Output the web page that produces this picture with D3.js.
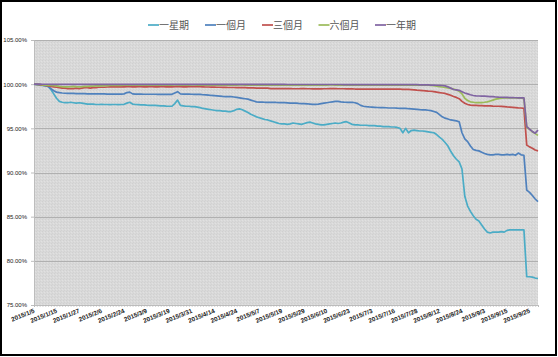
<!DOCTYPE html>
<html><head><meta charset="utf-8">
<script src="https://cdnjs.cloudflare.com/ajax/libs/d3/7.8.5/d3.min.js"></script>
<style>html,body{margin:0;padding:0;background:#fff;}svg{display:block;}</style>
</head><body>
<svg id="chart" width="558" height="357"></svg>
<script>
const dates = [
"2015/1/5","2015/1/6","2015/1/7","2015/1/8","2015/1/9","2015/1/12","2015/1/13","2015/1/14","2015/1/15","2015/1/16","2015/1/19","2015/1/20","2015/1/21","2015/1/22","2015/1/23","2015/1/26","2015/1/27","2015/1/28","2015/1/29","2015/1/30",
"2015/2/2","2015/2/3","2015/2/4","2015/2/5","2015/2/6","2015/2/9","2015/2/10","2015/2/11","2015/2/12","2015/2/13","2015/2/16","2015/2/17","2015/2/24","2015/2/25","2015/2/26",
"2015/3/2","2015/3/3","2015/3/4","2015/3/5","2015/3/6","2015/3/9","2015/3/10","2015/3/11","2015/3/12","2015/3/13","2015/3/16","2015/3/17","2015/3/18","2015/3/19","2015/3/20","2015/3/23","2015/3/24","2015/3/25","2015/3/26","2015/3/27","2015/3/30","2015/3/31",
"2015/4/1","2015/4/2","2015/4/7","2015/4/8","2015/4/9","2015/4/10","2015/4/13","2015/4/14","2015/4/15","2015/4/16","2015/4/17","2015/4/20","2015/4/21","2015/4/22","2015/4/23","2015/4/24","2015/4/27","2015/4/28","2015/4/29","2015/4/30",
"2015/5/4","2015/5/5","2015/5/6","2015/5/7","2015/5/8","2015/5/11","2015/5/12","2015/5/13","2015/5/14","2015/5/15","2015/5/18","2015/5/19","2015/5/20","2015/5/21","2015/5/22","2015/5/25","2015/5/26","2015/5/27","2015/5/28","2015/5/29",
"2015/6/1","2015/6/2","2015/6/3","2015/6/4","2015/6/5","2015/6/8","2015/6/9","2015/6/10","2015/6/11","2015/6/12","2015/6/15","2015/6/16","2015/6/17","2015/6/18","2015/6/22","2015/6/23","2015/6/24","2015/6/25","2015/6/26","2015/6/29","2015/6/30",
"2015/7/1","2015/7/2","2015/7/3","2015/7/6","2015/7/7","2015/7/8","2015/7/9","2015/7/13","2015/7/14","2015/7/15","2015/7/16","2015/7/17","2015/7/20","2015/7/21","2015/7/22","2015/7/23","2015/7/24","2015/7/27","2015/7/28","2015/7/29","2015/7/30",
"2015/8/3","2015/8/4","2015/8/5","2015/8/6","2015/8/11","2015/8/12","2015/8/13","2015/8/14","2015/8/17","2015/8/18","2015/8/19","2015/8/20","2015/8/21","2015/8/24","2015/8/25","2015/8/26","2015/8/27","2015/8/28","2015/8/31",
"2015/9/1","2015/9/2","2015/9/3","2015/9/4","2015/9/7","2015/9/8","2015/9/9","2015/9/10","2015/9/11","2015/9/14","2015/9/15","2015/9/16","2015/9/17","2015/9/18","2015/9/21","2015/9/22","2015/9/23","2015/9/24","2015/9/25","2015/9/30",
"2015/10/1","2015/10/2"
];

const seriesNames = ["一星期","一個月","三個月","六個月","一年期"];
const seriesColors = ["#4bacc6","#4f81bd","#c0504d","#9bbb59","#8064a2"];

const oneWeek = [
100.0,99.95,99.9,99.85,99.8,99.75,99.4,98.9,98.4,98.05,
97.95,97.9,97.9,97.95,97.9,97.85,97.9,97.85,97.8,97.75,
97.75,97.75,97.7,97.7,97.72,97.7,97.7,97.68,97.7,97.7,
97.68,97.7,97.72,97.85,97.95,97.75,97.7,97.68,97.65,97.65,
97.62,97.6,97.6,97.6,97.58,97.55,97.55,97.52,97.5,97.5,
97.8,98.2,97.6,97.55,97.5,97.5,97.45,97.45,97.4,97.35,
97.25,97.2,97.15,97.1,97.05,97.0,97.0,96.95,96.95,96.9,
96.9,97.0,97.15,97.2,97.1,96.95,96.8,96.6,96.45,96.3,
96.2,96.1,96.0,95.95,95.85,95.75,95.65,95.55,95.5,95.5,
95.45,95.5,95.6,95.55,95.5,95.45,95.55,95.65,95.7,95.6,
95.5,95.45,95.4,95.4,95.45,95.5,95.55,95.6,95.55,95.6,
95.7,95.75,95.6,95.45,95.4,95.4,95.35,95.35,95.35,95.3,
95.3,95.3,95.25,95.25,95.2,95.2,95.2,95.15,95.15,95.1,
95.0,94.5,95.0,94.5,94.75,94.8,94.75,94.7,94.7,94.65,
94.6,94.55,94.5,94.3,94.0,93.75,93.4,93.0,92.4,91.9,
91.5,91.2,90.4,87.3,86.2,85.6,85.1,84.7,84.5,84.05,
83.6,83.25,83.15,83.25,83.25,83.25,83.3,83.25,83.45,83.5,
83.5,83.5,83.5,83.5,83.5,78.2,78.2,78.15,78.05,78.0
];

const oneMonth = [
100.0,99.98,99.95,99.9,99.85,99.75,99.5,99.25,99.1,99.05,
99.0,98.97,98.95,98.95,98.95,98.93,98.93,98.92,98.92,98.9,
98.9,98.9,98.9,98.9,98.9,98.9,98.88,98.88,98.88,98.88,
98.88,98.88,98.9,99.05,99.1,98.9,98.87,98.87,98.87,98.86,
98.86,98.86,98.86,98.86,98.85,98.85,98.85,98.85,98.85,98.85,
99.0,99.15,98.9,98.88,98.87,98.87,98.86,98.85,98.85,98.85,
98.8,98.78,98.75,98.72,98.7,98.68,98.65,98.62,98.6,98.6,
98.58,98.55,98.5,98.45,98.4,98.35,98.3,98.2,98.1,98.0,
97.97,97.96,97.95,97.95,97.95,97.95,97.93,97.92,97.9,97.9,
97.88,97.85,97.85,97.85,97.82,97.8,97.8,97.78,97.75,97.72,
97.72,97.75,97.8,97.85,97.9,97.95,98.0,98.05,98.05,98.0,
97.97,97.95,97.95,97.95,97.9,97.8,97.6,97.5,97.45,97.42,
97.4,97.38,97.36,97.35,97.35,97.33,97.3,97.3,97.3,97.28,
97.27,97.25,97.25,97.22,97.2,97.18,97.15,97.12,97.1,97.08,
97.05,97.0,96.9,96.8,96.55,96.3,96.15,96.05,95.95,95.9,
95.85,95.75,94.5,93.8,93.5,93.0,92.6,92.5,92.45,92.3,
92.15,92.05,92.0,92.0,92.05,92.05,92.0,92.0,92.05,92.0,
92.05,91.95,92.2,92.0,91.95,88.0,87.75,87.4,87.0,86.7
];

const threeMonth = [
100.0,99.98,99.95,99.9,99.85,99.8,99.75,99.7,99.65,99.6,
99.55,99.55,99.5,99.5,99.5,99.55,99.5,99.55,99.6,99.6,
99.55,99.6,99.6,99.65,99.65,99.65,99.68,99.7,99.7,99.7,
99.72,99.7,99.7,99.72,99.72,99.7,99.7,99.72,99.72,99.7,
99.7,99.72,99.72,99.7,99.7,99.72,99.72,99.7,99.7,99.7,
99.72,99.75,99.72,99.7,99.7,99.72,99.72,99.72,99.72,99.72,
99.7,99.68,99.68,99.66,99.66,99.65,99.65,99.64,99.64,99.62,
99.62,99.62,99.6,99.6,99.6,99.6,99.58,99.58,99.58,99.56,
99.55,99.55,99.55,99.55,99.5,99.5,99.5,99.5,99.5,99.5,
99.5,99.5,99.48,99.48,99.48,99.5,99.5,99.48,99.48,99.46,
99.46,99.46,99.46,99.48,99.48,99.5,99.5,99.5,99.48,99.48,
99.48,99.46,99.46,99.46,99.45,99.45,99.45,99.45,99.45,99.45,
99.45,99.45,99.45,99.45,99.45,99.45,99.44,99.44,99.44,99.43,
99.43,99.42,99.4,99.4,99.38,99.35,99.32,99.3,99.28,99.25,
99.22,99.2,99.15,99.1,99.05,99.0,98.95,98.85,98.75,98.6,
98.5,98.35,98.05,97.85,97.7,97.62,97.6,97.6,97.58,97.58,
97.55,97.55,97.55,97.52,97.5,97.5,97.48,97.45,97.42,97.4,
97.38,97.35,97.32,97.3,97.25,93.1,92.9,92.75,92.55,92.45
];

const sixMonth = [
100.0,99.98,99.96,99.93,99.9,99.87,99.85,99.82,99.8,99.75,
99.72,99.7,99.7,99.72,99.75,99.72,99.7,99.72,99.75,99.75,
99.78,99.78,99.8,99.8,99.8,99.82,99.82,99.85,99.85,99.85,
99.85,99.87,99.88,99.88,99.88,99.88,99.88,99.9,99.9,99.9,
99.9,99.92,99.9,99.9,99.88,99.9,99.92,99.9,99.9,99.9,
99.92,99.92,99.9,99.9,99.9,99.9,99.92,99.92,99.9,99.9,
99.9,99.9,99.92,99.9,99.9,99.9,99.9,99.92,99.9,99.9,
99.9,99.9,99.9,99.92,99.92,99.9,99.9,99.9,99.9,99.9,
99.9,99.9,99.9,99.9,99.9,99.92,99.9,99.9,99.9,99.9,
99.9,99.9,99.88,99.9,99.9,99.9,99.9,99.92,99.9,99.9,
99.9,99.9,99.9,99.9,99.9,99.92,99.92,99.9,99.9,99.9,
99.9,99.9,99.9,99.9,99.88,99.88,99.9,99.9,99.9,99.9,
99.9,99.9,99.9,99.9,99.88,99.88,99.88,99.9,99.9,99.9,
99.9,99.9,99.9,99.88,99.88,99.88,99.9,99.9,99.88,99.88,
99.88,99.85,99.82,99.78,99.72,99.68,99.62,99.58,99.52,99.45,
99.35,99.2,98.9,98.4,98.15,98.0,97.95,97.9,97.9,97.92,
97.95,98.0,98.1,98.2,98.3,98.37,98.42,98.45,98.45,98.45,
98.45,98.45,98.43,98.42,98.4,95.1,94.9,94.6,94.4,94.2
];

const oneYear = [
100.0,100.0,100.0,99.99,99.99,99.99,99.98,99.98,99.98,99.98,
99.98,99.98,99.98,99.98,99.98,99.98,99.98,99.98,99.98,99.98,
99.98,99.98,99.98,99.98,99.98,99.98,99.98,99.98,99.98,99.98,
99.98,99.98,99.98,99.98,99.98,99.98,99.98,99.98,99.98,99.98,
99.98,99.98,99.98,99.98,99.98,99.98,99.98,99.98,99.98,99.98,
99.98,99.98,99.98,99.98,99.98,99.98,99.98,99.98,99.97,99.97,
99.97,99.97,99.97,99.97,99.97,99.97,99.97,99.97,99.97,99.97,
99.97,99.97,99.97,99.97,99.97,99.97,99.97,99.97,99.97,99.97,
99.97,99.97,99.97,99.97,99.97,99.97,99.97,99.97,99.97,99.97,
99.96,99.96,99.96,99.96,99.96,99.96,99.96,99.96,99.96,99.96,
99.96,99.96,99.96,99.96,99.96,99.96,99.96,99.96,99.96,99.96,
99.95,99.95,99.95,99.95,99.95,99.95,99.95,99.95,99.95,99.95,
99.95,99.95,99.95,99.95,99.95,99.95,99.95,99.95,99.95,99.95,
99.94,99.94,99.94,99.94,99.94,99.94,99.94,99.93,99.93,99.93,
99.92,99.9,99.9,99.88,99.87,99.85,99.8,99.7,99.55,99.4,
99.35,99.3,99.15,99.0,98.9,98.8,98.72,98.68,98.66,98.65,
98.64,98.62,98.6,98.58,98.55,98.53,98.52,98.5,98.5,98.48,
98.47,98.46,98.45,98.45,98.44,95.2,94.9,94.65,94.45,94.8
];

const yTicks = [75,80,85,90,95,100,105];
const tickEvery = 8;

const seriesData = [oneWeek, oneMonth, threeMonth, sixMonth, oneYear];

const svg = d3.select("#chart");
const W = 558, H = 357;
const plot = {left: 34, right: 538, top: 40, bottom: 305};

svg.append("rect").attr("x",0).attr("y",0).attr("width",W).attr("height",H).attr("fill","#fff");

const x = d3.scalePoint().domain(dates).range([plot.left, plot.right]);
const y = d3.scaleLinear().domain([75,105]).range([plot.bottom, plot.top]);

// plot background with soft dot texture
const defs = svg.append("defs");
const pat = defs.append("pattern").attr("id","dots").attr("patternUnits","userSpaceOnUse").attr("width",3).attr("height",3);
pat.append("rect").attr("width",3).attr("height",3).attr("fill","#d9d9d9");
pat.append("rect").attr("x",0).attr("y",0).attr("width",1).attr("height",1).attr("fill","#d0d0d0");
pat.append("rect").attr("x",2).attr("y",1).attr("width",1).attr("height",1).attr("fill","#e1e1e1");
pat.append("rect").attr("x",1).attr("y",2).attr("width",1).attr("height",1).attr("fill","#d2d2d2");

svg.append("rect").attr("x",plot.left).attr("y",plot.top)
  .attr("width",plot.right-plot.left).attr("height",plot.bottom-plot.top)
  .attr("fill","url(#dots)");

// gridlines
svg.append("g").selectAll("line").data(yTicks).join("line")
  .attr("x1",plot.left).attr("x2",plot.right)
  .attr("y1",d=>Math.round(y(d))+0.5).attr("y2",d=>Math.round(y(d))+0.5)
  .attr("stroke","#b0b0b0").attr("stroke-width",1);

// y axis
const yAxis = d3.axisLeft(y).tickValues(yTicks).tickSize(3).tickPadding(4)
  .tickFormat(d => d3.format(".2f")(d) + "%");
const gy = svg.append("g").attr("transform",`translate(${plot.left},0)`).call(yAxis);
gy.select(".domain").attr("stroke","#bdbdbd");
gy.selectAll(".tick line").attr("stroke","#bdbdbd");
gy.selectAll("text").attr("font-family","'Liberation Sans', Arial, sans-serif")
  .attr("font-size","6px").attr("fill","#222");

// x axis
const xAxis = d3.axisBottom(x).tickSize(2).tickFormat(()=> "");
const gx = svg.append("g").attr("transform",`translate(0,${plot.bottom})`).call(xAxis);
gx.select(".domain").attr("stroke","#bdbdbd");
gx.selectAll(".tick line").attr("stroke","#b8b8b8").attr("stroke-width",0.6);

const labelDates = dates.filter((d,i)=> i % tickEvery === 0);
svg.append("g").selectAll("text").data(labelDates).join("text")
  .attr("transform", d => `translate(${x(d)+1},${plot.bottom+7.5}) rotate(-22)`)
  .attr("text-anchor","end")
  .attr("font-family","'Liberation Sans', Arial, sans-serif")
  .attr("font-size","6.3px").attr("font-weight","bold").attr("fill","#1a1a1a")
  .text(d=>d);

// lines
const line = d3.line().x((v,i)=>x(dates[i])).y(v=>y(v));
seriesData.forEach((s,k)=>{
  svg.append("path").datum(s).attr("d",line)
    .attr("fill","none").attr("stroke",seriesColors[k])
    .attr("stroke-width",1.7).attr("stroke-linejoin","round");
});

// legend
const legendX = [148, 205, 262, 318.5, 375];
const lg = svg.append("g");
seriesNames.forEach((n,k)=>{
  lg.append("line").attr("x1",legendX[k]).attr("x2",legendX[k]+11)
    .attr("y1",25).attr("y2",25).attr("stroke",seriesColors[k]).attr("stroke-width",1.7);
  lg.append("text").attr("x",legendX[k]+11).attr("y",28.5)
    .attr("font-family","'Noto Sans CJK TC', sans-serif").attr("font-size","10px")
    .attr("fill","#555").text(n);
});

// outer frame
svg.append("rect").attr("x",1).attr("y",1).attr("width",W-3).attr("height",H-3)
  .attr("fill","none").attr("stroke","#000").attr("stroke-width",2);
</script>
</body></html>
